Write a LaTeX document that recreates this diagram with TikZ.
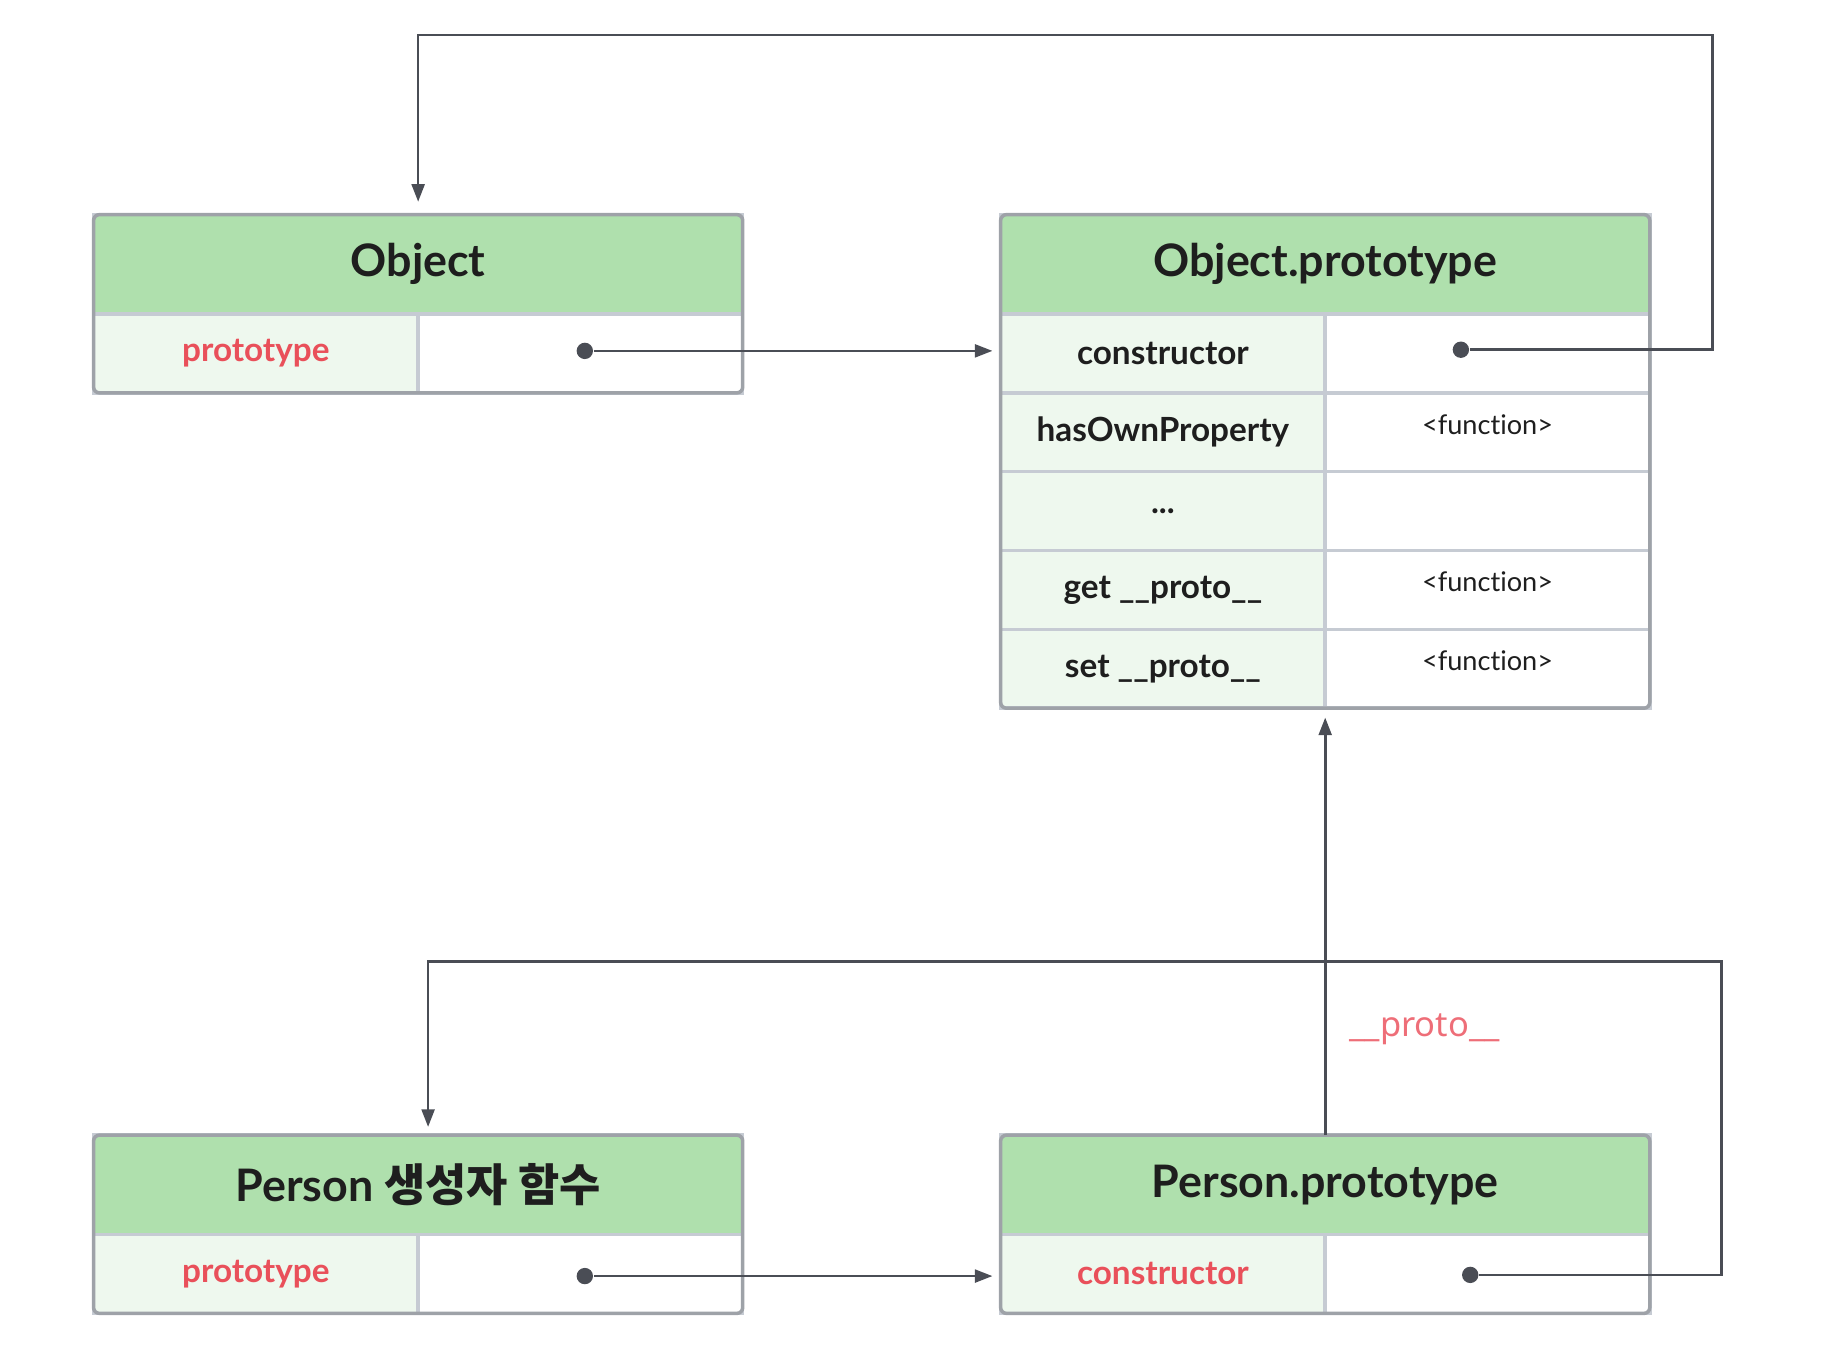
\documentclass[tikz,border=0pt]{standalone}
\usepackage{fontspec}
\setmainfont{Lato}[Ligatures=NoCommon]
\newfontfamily\krfont{Noto Sans CJK KR}
\newfontfamily\lblfont{Noto Sans}
\usetikzlibrary{arrows.meta}
\usetikzlibrary{positioning}
\usetikzlibrary{calc}

\definecolor{hdrgreen}{HTML}{AFE0AD}
\definecolor{keygreen}{HTML}{EEF8EE}
\definecolor{framegray}{HTML}{9EA2A8}
\definecolor{sepgray}{HTML}{C6CBD3}
\definecolor{linegray}{HTML}{4A4D55}
\definecolor{txtblack}{HTML}{1E1E1E}
\definecolor{keyred}{HTML}{E9505A}
\definecolor{protored}{HTML}{EE6E78}

\begin{document}
\begin{tikzpicture}[x=0.1mm,y=-0.1mm,>={Triangle[length=1.5mm,width=1.1mm]},
		line join=miter]
		\tikzstyle{hdr}=[draw=sepgray,line width=0.3mm,fill=hdrgreen,minimum width=55.5mm,minimum height=8.5mm,
			inner sep=0pt,outer sep=0pt,text=txtblack,font=\fontsize{10.9}{13}\selectfont\bfseries]
		\tikzstyle{keycell}=[draw=sepgray,line width=0.3mm,fill=keygreen,minimum width=27.75mm,minimum height=6.74mm,
			inner sep=0pt,outer sep=0pt,text=txtblack,font=\fontsize{8.1}{10}\selectfont\bfseries]
		\tikzstyle{valcell}=[keycell,fill=white,font=\fontsize{6.6}{8}\selectfont]
		\tikzstyle{frame}=[draw=framegray,line width=0.3mm,rounded corners=0.5mm]
		\tikzstyle{dot}=[circle,fill=linegray,inner sep=0pt,minimum size=1.4mm]
		\tikzstyle{conn}=[draw=linegray,line width=0.22mm]
		
		\useasboundingbox (0,0) rectangle (1568,1163);
		
		\node[hdr]                         (obj)    at (357.5,226)  {Object};
		\node[keycell,anchor=north west,text=keyred] (objkey) at (obj.south west) {prototype};
		\node[valcell,right=0pt of objkey] (objval)                   {};
		\draw[frame] (obj.north west) rectangle (objval.south east);
		
		\node[hdr]                         (op)     at (1133,226)   {Object.prototype};
		\node[keycell,anchor=north west]   (opkey1) at (op.south west) {constructor};
		\node[keycell,below=0pt of opkey1] (opkey2)                   {hasOwnProperty};
		\node[keycell,below=0pt of opkey2] (opkey3)                   {...};
		\node[keycell,below=0pt of opkey3] (opkey4)                   {get \_\_proto\_\_};
		\node[keycell,below=0pt of opkey4] (opkey5)                   {set \_\_proto\_\_};
		\node[valcell,right=0pt of opkey1] (opval1)                   {};
		\node[valcell,right=0pt of opkey2] (opval2)                   {\raisebox{-0.3mm}{\smash{<function>}}};
		\node[valcell,right=0pt of opkey3] (opval3)                   {};
		\node[valcell,right=0pt of opkey4] (opval4)                   {\raisebox{-0.3mm}{\smash{<function>}}};
		\node[valcell,right=0pt of opkey5] (opval5)                   {\raisebox{-0.3mm}{\smash{<function>}}};
		\draw[frame] (op.north west) rectangle (opval5.south east);
		
		\node[hdr]                         (pfn)    at (357.5,1013) {Person {\krfont\bfseries 생성자 함수}};
		\node[keycell,anchor=north west,text=keyred] (pfnkey) at (pfn.south west) {prototype};
		\node[valcell,right=0pt of pfnkey] (pfnval)                   {};
		\draw[frame] (pfn.north west) rectangle (pfnval.south east);
		
		\node[hdr]                         (pp)     at (1133,1013)  {Person.prototype};
		\node[keycell,anchor=north west,text=keyred] (ppkey) at (pp.south west) {constructor};
		\node[valcell,right=0pt of ppkey]  (ppval)                    {};
		\draw[frame] (pp.north west) rectangle (ppval.south east);
		
		\node[dot] (objdot) at (500,300)  {};
		\node[dot] (opdot)  at (1249,299) {};
		\node[dot] (pfndot) at (500,1091) {};
		\node[dot] (ppdot)  at (1257,1090) {};
		\coordinate (topR) at (1464,30);
		\coordinate (botR) at (1472,822);
		
		\draw[conn,->,shorten >=0.7mm] (objdot) -- (objdot -| opkey1.west);
		\draw[conn,->,shorten >=0.7mm] (pfndot) -- (pfndot -| ppkey.west);
		\draw[conn,->,shorten >=1.1mm] (opdot) -| (topR) -| (obj.north);
		\draw[conn,->,shorten >=0.7mm] (ppdot) -| (botR) -| ([xshift=0.85mm]pfn.north);
		\draw[conn,->,shorten >=0.8mm] (pp.north) -- (pp.north |- opkey5.south);
		
		\node[text=protored,font=\lblfont\fontsize{8.4}{10}\selectfont] (protolbl) at (1218,880) {\_\_proto\_\_};
		\end{tikzpicture}
\end{document}
